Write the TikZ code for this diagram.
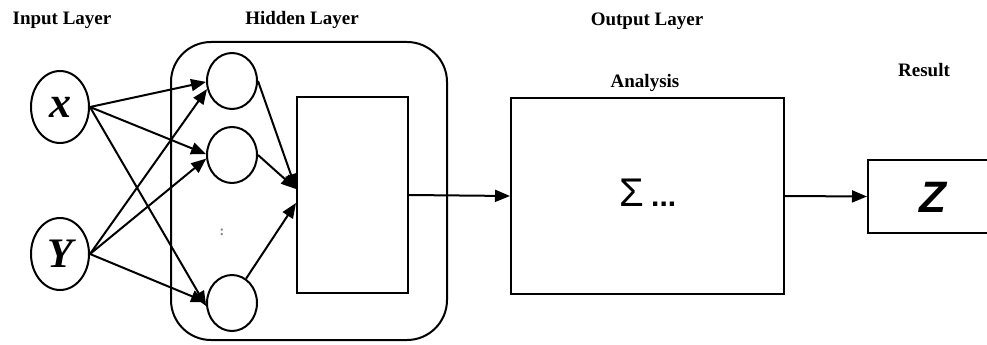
\documentclass[tikz,border=0pt]{standalone}
\usepackage{fontspec}
\setmainfont{Liberation Serif}
\newfontfamily\arialf{Liberation Sans}
\usetikzlibrary{arrows.meta,shapes.geometric,calc}
\begin{document}
\begin{tikzpicture}[x=1pt,y=-1pt,
  lw/.style={line width=2pt},
  conn/.style={lw,-{Triangle[length=15pt,width=12pt]}},
  inell/.style={ellipse,draw,lw,minimum width=58pt,minimum height=72pt,inner sep=0pt},
  hidell/.style={ellipse,draw,lw,minimum width=50pt,minimum height=56pt,inner sep=0pt},
  lbl/.style={font=\fontsize{19}{22}\selectfont\bfseries}
]
\useasboundingbox (0,0) rectangle (987,345);
% labels
\node[lbl] (tin) at (62,20) {Input Layer};
\node[lbl] (thid) at (302,20) {Hidden Layer};
\node[lbl] (tout) at (647,21) {Output Layer};
\node[lbl] (tana) at (645,83) {Analysis};
\node[lbl] (tres) at (924,70) {Result};
% hidden layer container
\node[draw,lw,rounded corners=40pt,minimum width=276pt,minimum height=298pt,inner sep=0pt] (hid) at (309,191) {};
% input nodes
\node[inell,font=\fontsize{44}{44}\selectfont\bfseries\itshape] (X) at (60,107) {x};
\node[inell,font=\fontsize{42}{42}\selectfont\bfseries\itshape] (Y) at (60,254) {Y};
% hidden neurons
\node[hidell] (c1) at (232,81) {};
\node[hidell] (c2) at (232,155) {};
\node[hidell] (c3) at (232,303) {};
\node[text=gray,font=\fontsize{14}{14}\selectfont\bfseries] (dots) at (222,232) {:};
% inner rect
\node[draw,lw,minimum width=111pt,minimum height=196pt,inner sep=0pt] (inner) at (352.5,195) {};
% analysis box
\node[draw,lw,minimum width=273pt,minimum height=196pt,inner sep=0pt] (ana) at (647.5,196) {};
\node[font=\arialf\fontsize{40}{40}\selectfont] (sig) at (648,193) {Σ\,{\bfseries\fontsize{30}{30}\selectfont...}};
% result box
\node[draw,lw,minimum width=130pt,minimum height=73pt,inner sep=0pt] (zb) at (933,196.5) {};
\node[font=\arialf\fontsize{44}{44}\selectfont\bfseries\itshape] (z) at (933,197) {Z};
% input connections
\draw[conn] (X.east) -- (c1.182);
\draw[conn] (X.east) -- (c2.178);
\draw[conn] (X.east) -- (c3.187);
\draw[conn] (Y.east) -- (c1.198);
\draw[conn] (Y.east) -- (c2.188);
\draw[conn] (Y.east) -- (c3.178);
% hidden to inner
\draw[conn] (c1.east) -- ($(inner.west)+(0,-6)$);
\draw[conn] (c2.east) -- ($(inner.west)+(0,-6)$);
\draw[conn] (c3.60) -- ($(inner.west)+(0,8)$);
% output
\draw[conn] (inner.east) -- (ana.west);
\draw[conn] (ana.east) -- (zb.west);
\end{tikzpicture}
\end{document}
